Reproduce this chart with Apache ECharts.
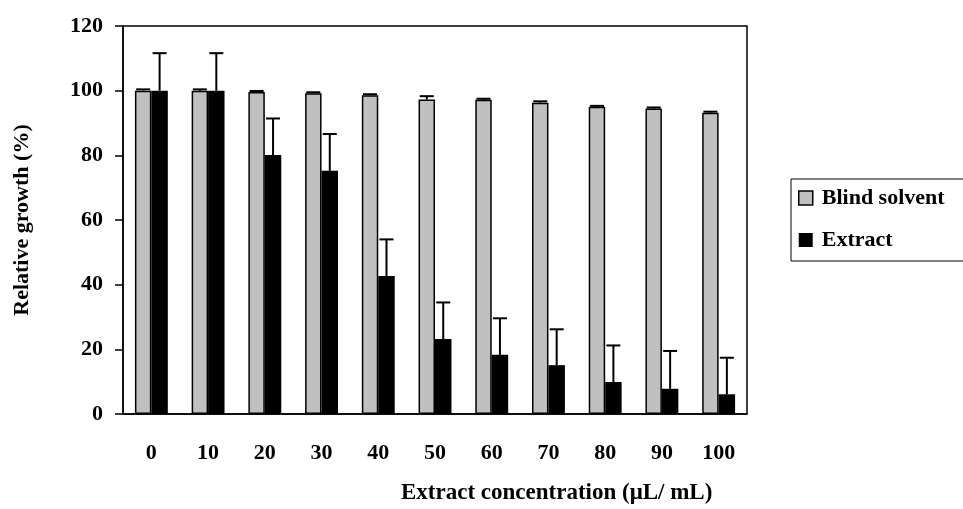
<!DOCTYPE html>
<html>
<head>
<meta charset="utf-8">
<script src="https://cdn.jsdelivr.net/npm/echarts@6/dist/echarts.min.js"></script>
<style>html,body{margin:0;padding:0;background:#fff;}#c{width:963px;height:509px;}</style>
</head>
<body>
<div id="c"></div>
<script>
const categories = ['0','10','20','30','40','50','60','70','80','90','100'];
const blindSolvent = [100, 100, 99.6, 99.2, 98.6, 97.3, 97.2, 96.3, 95.0, 94.5, 93.2];
const blindSolventErr = [0.4, 0.4, 0.3, 0.3, 0.3, 1.0, 0.3, 0.4, 0.3, 0.3, 0.3];
const extract = [100, 100, 80.1, 75.2, 42.7, 23.2, 18.3, 15.1, 9.9, 7.8, 6.1];
const extractErr = [11.6, 11.6, 11.3, 11.4, 11.3, 11.3, 11.3, 11.1, 11.3, 11.7, 11.3];
const yTicks = [0, 20, 40, 60, 80, 100, 120];

const FONT = '"Liberation Serif", "Times New Roman", serif';
const BAR_FRAC = 0.29;

function errData(vals, errs) {
  return vals.map((v, i) => [i, v, v + errs[i]]);
}
function makeErrRender(side) {
  return function (params, api) {
    const i = api.value(0);
    const lo = api.coord([i, api.value(1)]);
    const hi = api.coord([i, api.value(2)]);
    const band = api.size([1, 0])[0];
    const bw = band * BAR_FRAC;
    const x = lo[0] + side * bw / 2;
    const half = 7;
    return {
      type: 'group',
      children: [
        { type: 'line', shape: { x1: x, y1: lo[1], x2: x, y2: hi[1] }, style: { stroke: '#000', lineWidth: 2 } },
        { type: 'line', shape: { x1: x - half, y1: hi[1], x2: x + half, y2: hi[1] }, style: { stroke: '#000', lineWidth: 2 } }
      ]
    };
  };
}

const chart = echarts.init(document.getElementById('c'));
chart.setOption({
  animation: false,
  backgroundColor: '#fff',
  title: {
    text: 'Extract concentration (\u03bcL/ mL)',
    left: 396, top: 477,
    textStyle: { fontFamily: FONT, fontWeight: 'bold', fontSize: 23, color: '#000' }
  },
  grid: { left: 123, right: 216, top: 26, bottom: 95, show: true, borderColor: '#000', borderWidth: 1.5 },
  legend: {
    orient: 'vertical', left: 791, top: 179,
    padding: [8, 20, 10, 7], itemGap: 20,
    itemWidth: 14, itemHeight: 14,
    borderColor: '#000', borderWidth: 1, borderRadius: 0,
    textStyle: { fontFamily: FONT, fontWeight: 'bold', fontSize: 22, color: '#000', padding: [0, 0, 0, 4] },
    data: [
      { name: 'Blind solvent', icon: 'rect', itemStyle: { color: '#c0c0c0', borderColor: '#000', borderWidth: 1.5 } },
      { name: 'Extract', icon: 'rect', itemStyle: { color: '#000' } }
    ]
  },
  xAxis: {
    type: 'category', data: categories,
    axisLine: { lineStyle: { color: '#000', width: 1.5 } },
    axisTick: { show: false },
    axisLabel: { margin: 28, fontFamily: FONT, fontWeight: 'bold', fontSize: 22, color: '#000' }
  },
  yAxis: {
    type: 'value', min: 0, max: 120, interval: 20,
    name: 'Relative growth (%)', nameLocation: 'middle', nameGap: 90,
    nameTextStyle: { fontFamily: FONT, fontWeight: 'bold', fontSize: 22, color: '#000' },
    axisLine: { show: true, lineStyle: { color: '#000', width: 1.5 } },
    axisTick: { show: true, length: 8, lineStyle: { color: '#000', width: 1.5 } },
    axisLabel: { margin: 20, fontFamily: FONT, fontWeight: 'bold', fontSize: 22, color: '#000',
      formatter: v => yTicks.includes(v) ? String(v) : '' },
    splitLine: { show: false }
  },
  series: [
    { name: 'Blind solvent', type: 'bar', data: blindSolvent, barWidth: (BAR_FRAC * 100) + '%', barGap: '0%',
      itemStyle: { color: '#c0c0c0', borderColor: '#000', borderWidth: 1.5 } },
    { name: 'Extract', type: 'bar', data: extract, barWidth: (BAR_FRAC * 100) + '%', barGap: '0%',
      itemStyle: { color: '#000' } },
    { name: 'blindErr', type: 'custom', data: errData(blindSolvent, blindSolventErr), renderItem: makeErrRender(-1),
      encode: { x: 0, y: [1, 2] }, z: 5 },
    { name: 'extractErr', type: 'custom', data: errData(extract, extractErr), renderItem: makeErrRender(1),
      encode: { x: 0, y: [1, 2] }, z: 5 }
  ]
});
</script>
</body>
</html>
